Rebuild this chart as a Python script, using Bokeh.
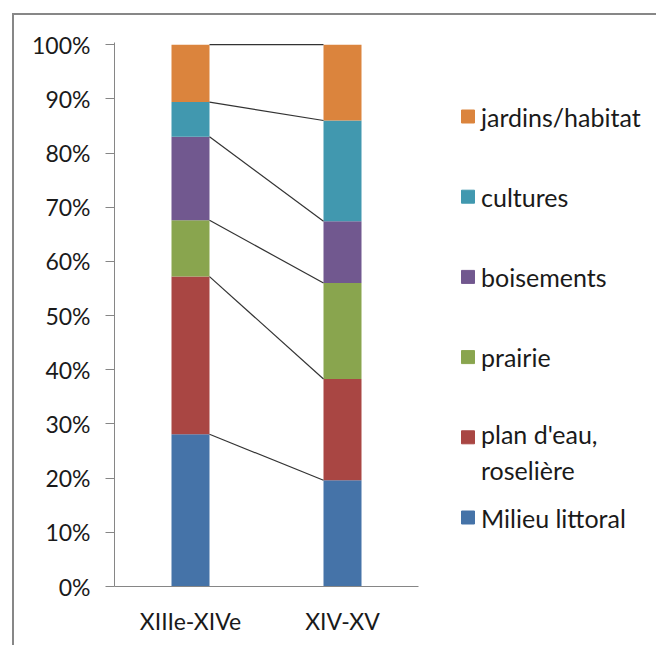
from bokeh.plotting import figure
from bokeh.layouts import row
from bokeh.models import (ColumnDataSource, FactorRange, Range1d, FixedTicker,
                          PrintfTickFormatter)
from bokeh.transform import dodge
from bokeh.embed import file_html
from bokeh.resources import INLINE
from bokeh.core.properties import value

# ---------------- data ----------------
periods = ["XIIIe-XIVe", "XIV-XV"]
series_keys = ["milieu", "plan", "prairie", "boisements", "cultures", "jardins"]
series_labels = ["Milieu littoral", "plan d'eau,\nroselière", "prairie",
                 "boisements", "cultures", "jardins/habitat"]
colors = ["#4573A8", "#A94643", "#89A54E", "#71588F", "#4198AF", "#DB843D"]
milieu = [28.1, 19.6]
plan = [29.1, 18.7]
prairie = [10.4, 17.7]
boisements = [15.4, 11.4]
cultures = [6.4, 18.6]
jardins = [10.6, 14.0]
y_ticks = [0, 10, 20, 30, 40, 50, 60, 70, 80, 90, 100]

FONT = "Lato"
FS = "23px"
LEG_FS = 25
TXT = "#1a1a1a"
AXIS = "#868686"

# layout (pixels)
W_MAIN, W_LEG, H = 426, 216, 630
B_LEFT, B_RIGHT, B_TOP, B_BOTTOM = 100, 22, 27, 59
Y_TOP = 100.4   # a hair of headroom so the 100% series line is not clipped

data = dict(period=periods, milieu=milieu, plan=plan, prairie=prairie,
            boisements=boisements, cultures=cultures, jardins=jardins)
src = ColumnDataSource(data)

p = figure(x_range=FactorRange(factors=periods, range_padding=0),
           y_range=Range1d(0, Y_TOP), width=W_MAIN, height=H,
           toolbar_location=None, output_backend="svg",
           min_border_left=B_LEFT, min_border_right=B_RIGHT,
           min_border_top=B_TOP, min_border_bottom=B_BOTTOM)
p.vbar_stack(series_keys, x="period", width=0.25, color=colors, source=src,
             line_color=None)

# series lines between the stacked bars
cum0, cum1 = [], []
s0 = s1 = 0.0
for k in series_keys:
    s0 += data[k][0]
    s1 += data[k][1]
    cum0.append(s0)
    cum1.append(s1)
seg = ColumnDataSource(dict(c0=[periods[0]] * len(cum0), c1=[periods[1]] * len(cum1),
                            y0=cum0, y1=cum1))
p.segment(x0=dodge("c0", 0.125, range=p.x_range), y0="y0",
          x1=dodge("c1", -0.125, range=p.x_range), y1="y1",
          source=seg, line_color="#333333", line_width=1.2)

p.xgrid.visible = False
p.ygrid.visible = False
p.outline_line_color = None
p.background_fill_color = "white"
p.border_fill_color = "white"

p.yaxis.ticker = FixedTicker(ticks=y_ticks)
p.yaxis.formatter = PrintfTickFormatter(format="%d%%")
p.yaxis.major_tick_out = 9
p.yaxis.major_tick_in = 0
p.yaxis.minor_tick_line_color = None
p.yaxis.major_label_standoff = 15
for ax in (p.xaxis[0], p.yaxis[0]):
    ax.axis_line_color = AXIS
    ax.major_tick_line_color = AXIS
    ax.major_label_text_font = FONT
    ax.major_label_text_font_size = FS
    ax.major_label_text_color = TXT
p.xaxis.major_tick_out = 0
p.xaxis.major_tick_in = 0
p.xaxis.major_label_standoff = 20

# ---------------- legend panel (pixel-like coordinates) ----------------
X0 = 14 + W_MAIN                     # left of legend panel on the page
FRAME_TOP, FRAME_BOTTOM = 15 + B_TOP, 15 + H - B_BOTTOM
leg = figure(width=W_LEG, height=H, x_range=Range1d(X0, X0 + W_LEG),
             y_range=Range1d(FRAME_BOTTOM, FRAME_TOP),
             toolbar_location=None, output_backend="svg",
             min_border_left=0, min_border_right=0,
             min_border_top=B_TOP, min_border_bottom=B_BOTTOM,
             x_axis_location=None, y_axis_location=None)
leg.grid.visible = False
leg.outline_line_color = None
leg.border_fill_color = "white"

leg_top, leg_step, line_px = 116, 80.2, 30
sq_x, tx_x = 467.5, 480.5
order = list(range(len(series_keys)))[::-1]
sq_y = [leg_top + i * leg_step for i in range(len(order))]
labels = [series_labels[j] for j in order]
txt_y = [y + labels[i].count("\n") * line_px / 2 for i, y in enumerate(sq_y)]
lsrc = ColumnDataSource(dict(x=[sq_x] * len(order), tx=[tx_x] * len(order),
                             y=sq_y, ty=txt_y, label=labels,
                             color=[colors[j] for j in order]))
leg.scatter(x="x", y="y", marker="square", size=13, color="color", source=lsrc)
leg.text(x="tx", y="ty", text="label", source=lsrc, text_font=value(FONT),
         text_font_size=f"{LEG_FS}px", text_color=TXT, text_baseline="middle",
         text_align="left", text_line_height=line_px / LEG_FS)

layout = row(p, leg, margin=(13, 0, 0, 12),
             styles={"border-top": "2px solid #878787",
                     "border-left": "2px solid #878787"})

open("out.html", "w").write(file_html(layout, INLINE))
